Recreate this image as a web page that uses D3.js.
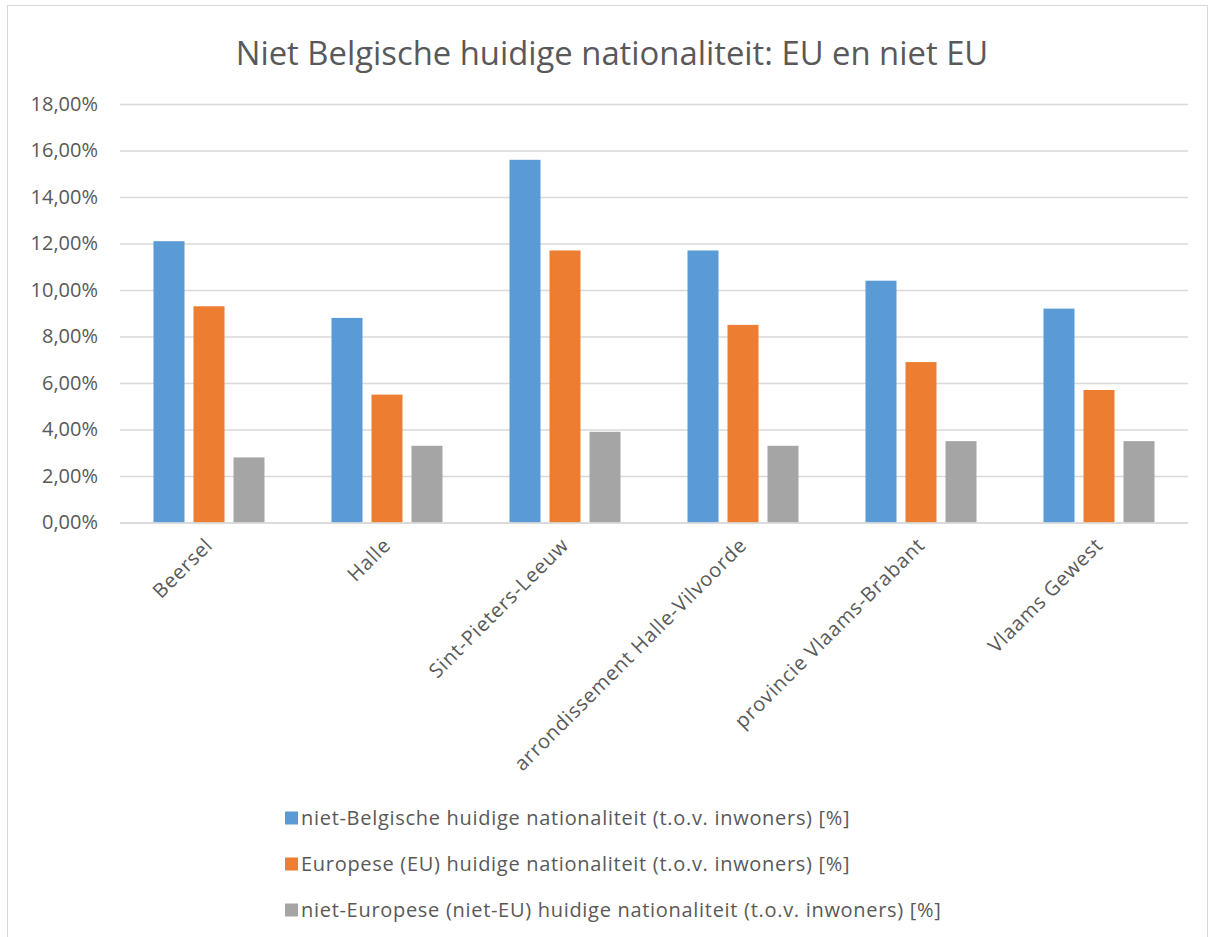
<!DOCTYPE html>
<html>
<head>
<meta charset="utf-8">
<script src="https://cdn.jsdelivr.net/npm/d3@7"></script>
<style>
  body { margin: 0; background: #fff; }
  text { font-family: "Open Sans", sans-serif; fill: #595959; }
</style>
</head>
<body>
<svg id="chart" width="1215" height="937"></svg>
<script>
const categories = ['Beersel', 'Halle', 'Sint-Pieters-Leeuw', 'arrondissement Halle-Vilvoorde', 'provincie Vlaams-Brabant', 'Vlaams Gewest'];
const seriesNames = [
  'niet-Belgische huidige nationaliteit (t.o.v. inwoners) [%]',
  'Europese (EU) huidige nationaliteit (t.o.v. inwoners) [%]',
  'niet-Europese (niet-EU) huidige nationaliteit (t.o.v. inwoners) [%]'
];
const nietBelgisch = [12.1, 8.8, 15.6, 11.7, 10.4, 9.2];
const europees = [9.3, 5.5, 11.7, 8.5, 6.9, 5.7];
const nietEuropees = [2.8, 3.3, 3.9, 3.3, 3.5, 3.5];
const yTicks = [0, 2, 4, 6, 8, 10, 12, 14, 16, 18];
const colors = ['#5B9BD5', '#ED7D31', '#A5A5A5'];

const series = [nietBelgisch, europees, nietEuropees];

const svg = d3.select('#chart');

// chart border
svg.append('rect')
  .attr('x', 7.5).attr('y', 5.5)
  .attr('width', 1200).attr('height', 940)
  .attr('fill', '#fff').attr('stroke', '#D9D9D9').attr('stroke-width', 1);

const plot = { left: 120, right: 1188, top: 104, bottom: 522.5 };

const x = d3.scaleBand()
  .domain(categories)
  .range([plot.left, plot.right]);

const x1 = d3.scaleBand()
  .domain(d3.range(series.length))
  .range([0, 111])
  .paddingInner(0.225);

const y = d3.scaleLinear()
  .domain([0, 18])
  .range([plot.bottom, plot.top]);

// title
svg.append('text')
  .attr('x', 612).attr('y', 65)
  .attr('text-anchor', 'middle')
  .style('font-size', '32.8px')
  .text('Niet Belgische huidige nationaliteit: EU en niet EU');

// gridlines + y labels
const yAxis = d3.axisLeft(y)
  .tickValues(yTicks)
  .tickSize(-(plot.right - plot.left))
  .tickPadding(22)
  .tickFormat(d => d3.format('.2f')(d).replace('.', ',') + '%');

const gy = svg.append('g')
  .attr('transform', `translate(${plot.left},0)`)
  .call(yAxis);
gy.select('.domain').remove();
gy.selectAll('.tick line').attr('stroke', '#D9D9D9').attr('stroke-width', 1.3);
gy.selectAll('.tick text').style('font-size', '20px').attr('fill', '#595959');

// bars
const groups = svg.append('g').selectAll('g')
  .data(categories)
  .join('g')
  .attr('transform', d => `translate(${x(d) + x.bandwidth() / 2 - 55.5},0)`);

groups.selectAll('rect')
  .data((d, i) => series.map((s, k) => ({ k, v: s[i] })))
  .join('rect')
  .attr('x', d => x1(d.k))
  .attr('width', x1.bandwidth())
  .attr('y', d => y(d.v))
  .attr('height', d => y(0) - y(d.v))
  .attr('fill', d => colors[d.k]);

// x axis line
svg.append('line')
  .attr('x1', plot.left).attr('x2', plot.right)
  .attr('y1', plot.bottom + 0.5).attr('y2', plot.bottom + 0.5)
  .attr('stroke', '#D9D9D9').attr('stroke-width', 1.3);

// x labels, rotated
svg.append('g').selectAll('text')
  .data(categories)
  .join('text')
  .attr('transform', d => `translate(${x(d) + x.bandwidth() / 2 + 5},${plot.bottom + 24}) rotate(-45)`)
  .attr('text-anchor', 'end')
  .style('font-size', '20px')
  .style('letter-spacing', '0.8px')
  .text(d => d);

// legend
const legend = svg.append('g').selectAll('g')
  .data(seriesNames)
  .join('g')
  .attr('transform', (d, i) => `translate(285,${818 + i * 46})`);

legend.append('rect')
  .attr('x', 0).attr('y', -6.5)
  .attr('width', 13).attr('height', 13)
  .attr('fill', (d, i) => colors[i]);

legend.append('text')
  .attr('x', 16).attr('y', 7)
  .style('font-size', '20px')
  .style('letter-spacing', '0.7px')
  .text(d => d);
</script>
</body>
</html>
